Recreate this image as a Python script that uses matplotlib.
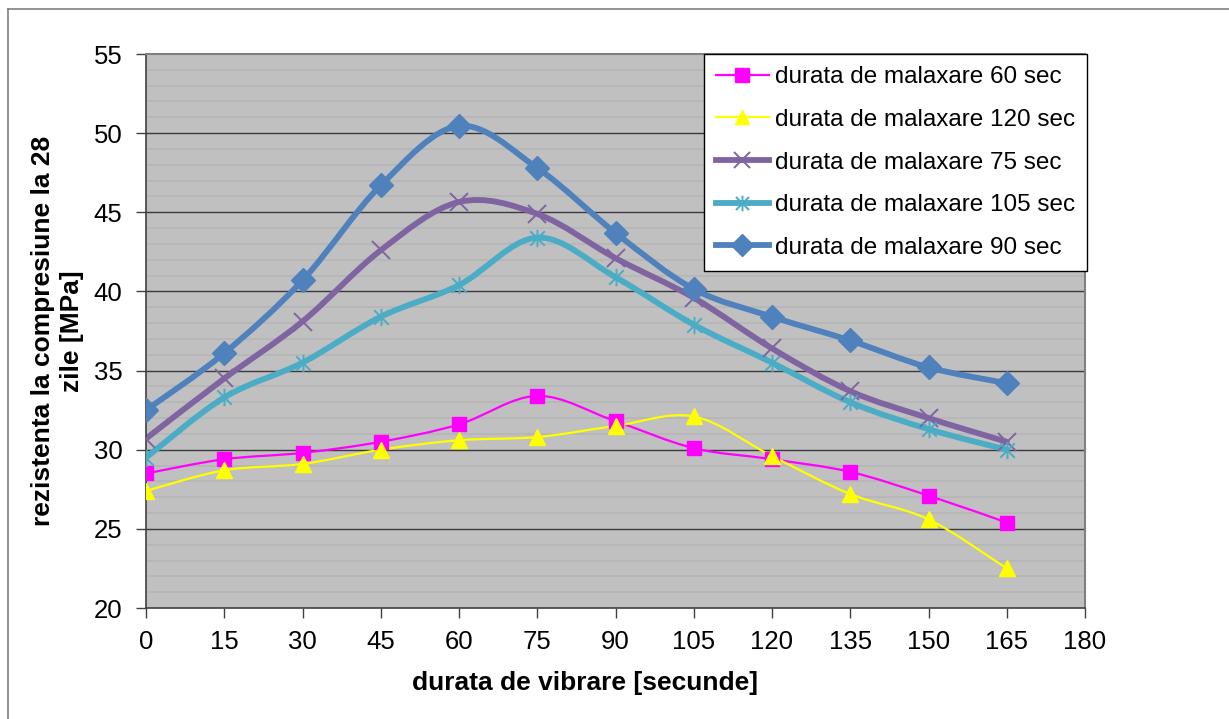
import numpy as np
import matplotlib.pyplot as plt
from matplotlib.path import Path
from matplotlib.patches import PathPatch
from matplotlib.lines import Line2D

plt.rcParams['font.family'] = ['Liberation Sans', 'DejaVu Sans']

# durata de vibrare [s]
x = [0, 15, 30, 45, 60, 75, 90, 105, 120, 135, 150, 165]

# rezistenta la compresiune la 28 zile [MPa]
mal_60 = [28.5, 29.4, 29.8, 30.5, 31.6, 33.4, 31.8, 30.1, 29.4, 28.6, 27.1, 25.4]
mal_120 = [27.4, 28.7, 29.1, 30.0, 30.6, 30.8, 31.5, 32.1, 29.6, 27.2, 25.6, 22.5]
mal_75 = [30.7, 34.5, 38.1, 42.6, 45.65, 44.9, 42.1, 39.6, 36.4, 33.7, 32.0, 30.5]
mal_105 = [29.5, 33.3, 35.5, 38.4, 40.4, 43.4, 40.9, 37.9, 35.5, 33.0, 31.3, 30.0]
mal_90 = [32.5, 36.1, 40.7, 46.7, 50.45, 47.8, 43.7, 40.15, 38.4, 36.9, 35.2, 34.2]

labels = ['durata de malaxare 60 sec', 'durata de malaxare 120 sec',
          'durata de malaxare 75 sec', 'durata de malaxare 105 sec',
          'durata de malaxare 90 sec']

# Excel-style star marker: an X with a vertical stroke
star = Path([(-1, -1), (1, 1), (-1, 1), (1, -1), (0, -1.2), (0, 1.2)],
            [Path.MOVETO, Path.LINETO, Path.MOVETO, Path.LINETO, Path.MOVETO, Path.LINETO])

styles = [
    dict(color='#ff00ff', lw=1.6, marker='s', ms=10.5, mew=1),
    dict(color='#ffff00', lw=1.6, marker='^', ms=11.5, mew=1),
    dict(color='#8064a2', lw=4.2, marker='x', ms=13, mew=1.4),
    dict(color='#4bacc6', lw=4.2, marker=star, ms=12.5, mew=1.4),
    dict(color='#4f81bd', lw=4.2, marker='D', ms=12, mew=1),
]


def smooth_path(xs, ys):
    # cubic Bezier through the points, tangents like Excel's smoothed line
    p = np.column_stack([xs, ys]).astype(float)
    n = len(p)
    verts = [p[0]]
    codes = [Path.MOVETO]
    for i in range(n - 1):
        prev = p[i - 1] if i > 0 else p[i]
        nxt = p[i + 2] if i + 2 < n else p[i + 1]
        c1 = p[i] + (p[i + 1] - prev) / 6.0
        c2 = p[i + 1] - (nxt - p[i]) / 6.0
        verts += [c1, c2, p[i + 1]]
        codes += [Path.CURVE4] * 3
    return Path(verts, codes)


fig = plt.figure(figsize=(12.29, 7.19), dpi=100)
ax = fig.add_axes([146 / 1229, 1 - 608 / 719, (1085 - 146) / 1229, (608 - 54) / 719])

# outer chart frame (left and top edges)
fig.add_artist(Line2D([8 / 1229, 8 / 1229], [1 - 9 / 719, 0], transform=fig.transFigure, color='#808080', lw=1.2))
fig.add_artist(Line2D([8 / 1229, 1], [1 - 9 / 719, 1 - 9 / 719], transform=fig.transFigure, color='#808080', lw=1.2))

ax.set_facecolor('#c0c0c0')
ax.set_xlim(0, 180)
ax.set_ylim(20, 55)

# faint stripes every MPa, dark major gridlines every 5
for v in range(21, 55):
    if v % 5:
        ax.axhline(v, color='#b6b6b6', lw=1.2, zorder=0.5)
for v in range(25, 55, 5):
    ax.axhline(v, color='#3a3a3a', lw=1.0, zorder=0.6)

series = [mal_60, mal_120, mal_75, mal_105, mal_90]
handles = []
for ys, st, lab in zip(series, styles, labels):
    patch = PathPatch(smooth_path(x, ys), facecolor='none', edgecolor=st['color'],
                      lw=st['lw'], zorder=2, capstyle='round', joinstyle='round')
    ax.add_patch(patch)
    ax.plot(x, ys, linestyle='none', marker=st['marker'], ms=st['ms'], mew=st['mew'],
            color=st['color'], mec=st['color'], zorder=3)
    handles.append(Line2D([], [], color=st['color'], lw=st['lw'], marker=st['marker'],
                          ms=st['ms'] * 0.9, mew=st['mew'], label=lab))

ax.set_xticks(np.arange(0, 181, 15))
ax.set_yticks(np.arange(20, 56, 5))
ax.tick_params(axis='both', labelsize=18.5, length=7, width=1, direction='out', color='#404040')
ax.tick_params(axis='x', pad=9)
ax.tick_params(axis='y', pad=10)

for side in ['left', 'bottom']:
    ax.spines[side].set_color('#404040')
    ax.spines[side].set_linewidth(1.2)
for side in ['top', 'right']:
    ax.spines[side].set_color('#808080')
    ax.spines[side].set_linewidth(1.5)

ax.set_xlabel('durata de vibrare [secunde]', fontsize=19, fontweight='bold')
ax.xaxis.set_label_coords(0.4674, -0.114)
ax.set_ylabel('rezistenta la compresiune la 28\nzile [MPa]', fontsize=19, fontweight='bold',
              linespacing=1.25)
ax.yaxis.set_label_coords(-0.066, 0.5)

leg = ax.legend(handles=handles, loc='upper right', bbox_to_anchor=(1.002, 1.0),
                fontsize=17.5, frameon=True, fancybox=False, framealpha=1,
                edgecolor='#000000', handlelength=2.15, handletextpad=0.25,
                labelspacing=0.85, borderpad=0.5, borderaxespad=0)
leg.get_frame().set_linewidth(1.0)

fig.savefig('out.png', dpi=100, facecolor='white')
